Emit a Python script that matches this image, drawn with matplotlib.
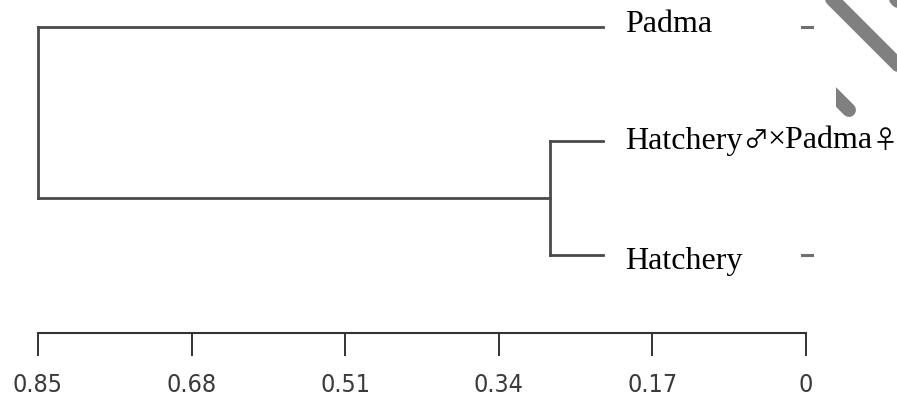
import matplotlib
matplotlib.use("Agg")
import matplotlib.pyplot as plt
from matplotlib.patches import Rectangle
from matplotlib.offsetbox import TextArea, HPacker, AnnotationBbox

# leaves, top to bottom; each label is split into (text, is_symbol) parts
leaves = [
    [("Padma", False)],
    [("Hatchery", False), ("\u2642", True), ("\u00d7Padma", False), ("\u2640", True)],
    [("Hatchery", False)],
]
label_nudge = [-2, 0, 7]   # px, labels sit a little off their branch in the picture
root_height = 0.85
inner_height = 0.283       # join of Hatchery and hybrid
leaf_end = 0.225           # branches stop here in the picture
label_x = 0.2
stub_rows = [0, 2]         # little dashes at the right
stub_x = [0.0045, -0.0065]
ticks = [0.85, 0.68, 0.51, 0.34, 0.17, 0]
tick_labels = ["0.85", "0.68", "0.51", "0.34", "0.17", "0"]

W, H = 897, 401
fig = plt.figure(figsize=(W / 100, H / 100), dpi=100)

# background layer for the grey stripes in the corner
bg = fig.add_axes([0, 0, 1, 1], zorder=0)
bg.set_xlim(0, W)
bg.set_ylim(H, 0)
bg.axis("off")
stripe = dict(color="#808080", lw=10, solid_capstyle="round")
bg.plot([815, 915], [-18, 82], **stripe)
bg.plot([880, 920], [-17, 23], **stripe)
piece, = bg.plot([815, 849], [76, 110], **stripe)
piece.set_clip_path(Rectangle((836, 0), 100, H, transform=bg.transData))

ax = fig.add_axes([38 / W, (H - 333) / H, (806 - 38) / W, 333 / H], zorder=1)
ax.patch.set_alpha(0)
ax.set_xlim(root_height, 0)
ax.set_ylim((333 - 27) / 114, -27 / 114)

lc = "#4a4a4a"
lw = 2.0
inner_y = (1 + 2) / 2
# root
ax.plot([root_height, root_height], [0, inner_y], color=lc, lw=lw, clip_on=False)
ax.plot([root_height, leaf_end], [0, 0], color=lc, lw=lw, clip_on=False)
ax.plot([root_height, inner_height], [inner_y, inner_y], color=lc, lw=lw, clip_on=False)
# inner node
ax.plot([inner_height, inner_height], [1, 2], color=lc, lw=lw, clip_on=False)
ax.plot([inner_height, leaf_end], [1, 1], color=lc, lw=lw, clip_on=False)
ax.plot([inner_height, leaf_end], [2, 2], color=lc, lw=lw, clip_on=False)

serif = dict(fontsize=23, family="Liberation Serif", color="black")
sym = dict(fontsize=18, family=["Noto Sans CJK JP", "DejaVu Sans"], color="black")
for i, parts in enumerate(leaves):
    boxes = [TextArea(t, textprops=(sym if s else serif)) for t, s in parts]
    pack = HPacker(children=boxes, sep=0, pad=0, align="baseline")
    ab = AnnotationBbox(pack, (label_x, i + label_nudge[i] / 114), box_alignment=(0, 0.5),
                        frameon=False, pad=0, annotation_clip=False)
    ax.add_artist(ab)

for r in stub_rows:
    ax.plot(stub_x, [r, r], color="#707070", lw=2.2, clip_on=False)

for s in ["top", "left", "right"]:
    ax.spines[s].set_visible(False)
ax.spines["bottom"].set_linewidth(1.5)
ax.spines["bottom"].set_color("#333333")
ax.set_yticks([])
ax.set_xticks(ticks)
ax.set_xticklabels(tick_labels, family="DejaVu Sans", stretch="condensed",
                   fontsize=18, color="#3a3a3a")
ax.tick_params(axis="x", direction="out", length=16.5, width=1.4, color="#333333", pad=12)

fig.savefig("out.png", dpi=100)
